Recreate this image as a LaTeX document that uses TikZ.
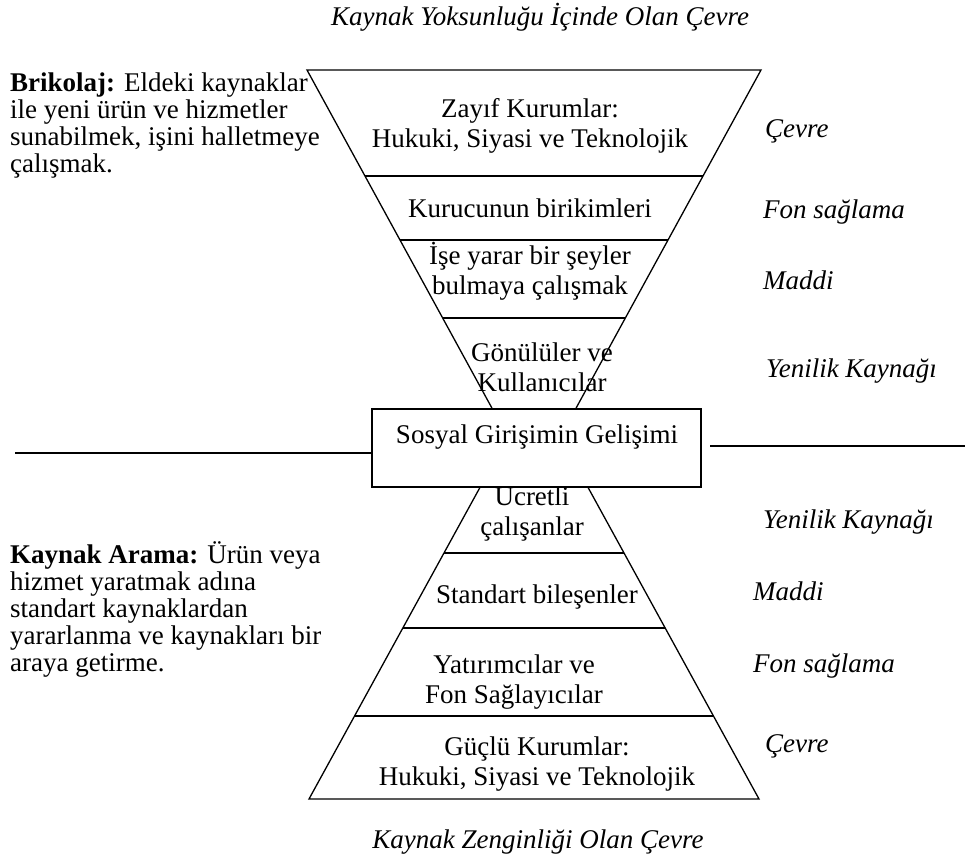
\documentclass[tikz,border=0pt]{standalone}
\usepackage{fontspec}
\setmainfont{Liberation Serif}
\begin{document}
\begin{tikzpicture}[x=1pt,y=-1pt,
  txt/.style={font=\fontsize{27}{30}\selectfont, inner sep=0pt, align=center, anchor=base},
  lbl/.style={font=\fontsize{27}{30}\selectfont\itshape, inner sep=0pt, anchor=base west},
  side/.style={font=\fontsize{27}{27}\selectfont, inner sep=0pt, align=left, anchor=base west},
  ttl/.style={font=\fontsize{27}{30}\selectfont\itshape, inner sep=0pt, anchor=base},
  edge/.style={line width=1.3pt},
  boxst/.style={draw, line width=1.3pt, fill=white, minimum width=329pt, minimum height=78pt, inner sep=0pt}
]
\useasboundingbox (0,0) rectangle (967,862);
\fill[white] (0,0) rectangle (967,862);

% inverted triangle (top)
\coordinate (t1) at (307,70);
\coordinate (t2) at (761,70);
\coordinate (ta) at (534,485);
\draw[edge] (t1) -- (t2) -- (ta) -- cycle;
\draw[edge] (365,176) -- (703,176);
\draw[edge] (400,240) -- (668,240);
\draw[edge] (443,318) -- (625,318);

% upright triangle (bottom), its tip hidden by the box
\coordinate (b1) at (309,799);
\coordinate (b2) at (759,799);
\coordinate (bl) at (523,409);
\coordinate (br) at (545,409);
\draw[edge] (bl) -- (b1) -- (b2) -- (br);
\draw[edge] (444,553) -- (624,553);
\draw[edge] (403,628) -- (665,628);
\draw[edge] (355,716) -- (713,716);

% texts in top triangle (anchored at last line baseline)
\node[txt] (z1) at (530,147) {Zayıf Kurumlar:\\Hukuki, Siyasi ve Teknolojik};
\node[txt] (z2) at (530,217) {Kurucunun birikimleri};
\node[txt] (z3) at (530,294) {İşe yarar bir şeyler\\bulmaya çalışmak};
\node[txt] (z4) at (542,391) {Gönülüler ve\\Kullanıcılar};

% texts in bottom triangle
\node[txt] (g1) at (532,535) {Ücretli\\çalışanlar};
\node[txt] (g2) at (537,603) {Standart bileşenler};
\node[txt] (g3) at (514,703) {Yatırımcılar ve\\Fon Sağlayıcılar};
\node[txt] (g4) at (537,785) {Güçlü Kurumlar:\\Hukuki, Siyasi ve Teknolojik};

% central box
\node[boxst] (box) at (536.5,448) {};
\node[txt] (boxt) at (537,443) {Sosyal Girişimin Gelişimi};

% horizontal lines
\coordinate (L) at (15,453);
\coordinate (R1) at (710,446);
\coordinate (R2) at (965,446);
\draw[edge] (L) -- (L -| box.west);
\draw[edge] (R1) -- (R2);

% titles
\node[ttl] (top) at (540,25) {Kaynak Yoksunluğu İçinde Olan Çevre};
\node[ttl] (bot) at (538,848) {Kaynak Zenginliği Olan Çevre};

% right labels
\node[lbl] (r1) at (765,137) {Çevre};
\node[lbl] (r2) at (763,218) {Fon sağlama};
\node[lbl] (r3) at (763,289) {Maddi};
\node[lbl] (r4) at (766,377) {Yenilik Kaynağı};
\node[lbl] (r5) at (763,528) {Yenilik Kaynağı};
\node[lbl] (r6) at (753,600) {Maddi};
\node[lbl] (r7) at (753,672) {Fon sağlama};
\node[lbl] (r8) at (765,752) {Çevre};

% left texts
\node[side] (brik) at (10,172) {\textbf{Brikolaj:} Eldeki kaynaklar\\ile yeni ürün ve hizmetler\\sunabilmek, işini halletmeye\\çalışmak.};
\node[side] (ka) at (10,671) {\textbf{Kaynak Arama:} Ürün veya\\hizmet yaratmak adına\\standart kaynaklardan\\yararlanma ve kaynakları bir\\araya getirme.};
\end{tikzpicture}
\end{document}
